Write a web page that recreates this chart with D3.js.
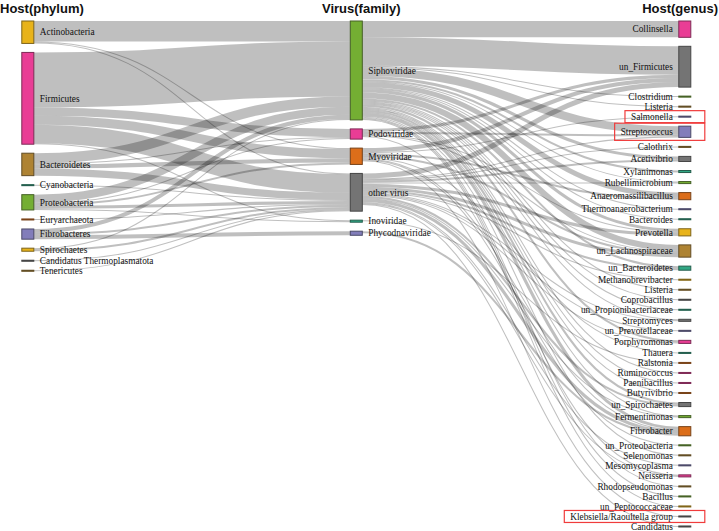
<!DOCTYPE html>
<html>
<head>
<meta charset="utf-8">
<script src="https://cdn.jsdelivr.net/npm/d3@7"></script>
<style>
  html, body { margin: 0; padding: 0; background: #fff; }
  svg { display: block; }
</style>
</head>
<body>
<svg id="chart" width="719" height="531"></svg>
<script>
// ---------------- DATA ----------------
const columnTitles = ["Host(phylum)", "Virus(family)", "Host(genus)"];

const phyla = ["Actinobacteria", "Firmicutes", "Bacteroidetes", "Cyanobacteria", "Proteobacteria",
  "Euryarchaeota", "Fibrobacteres", "Spirochaetes", "Candidatus Thermoplasmatota", "Tenericutes"];

const families = ["Siphoviridae", "Podoviridae", "Myoviridae", "other virus", "Inoviridae", "Phycodnaviridae"];

const genera = ["Collinsella", "un_Firmicutes", "Clostridium", "Listeria", "Salmonella", "Streptococcus",
  "Calothrix", "Acetivibrio", "Xylanimonas", "Rubellimicrobium", "Anaeromassilibacillus",
  "Thermoanaerobacterium", "Bacteroides", "Prevotella", "un_Lachnospiraceae", "un_Bacteroidetes",
  "Methanobrevibacter", "Listeria#2", "Coprobacillus", "un_Propionibacteriaceae", "Streptomyces",
  "un_Prevotellaceae", "Porphyromonas", "Thauera", "Ralstonia", "Ruminococcus", "Paenibacillus",
  "Butyrivibrio", "un_Spirochaetes", "Fermentimonas", "Fibrobacter", "un_Proteobacteria", "Selenomonas",
  "Mesomycoplasma", "Neisseria", "Rhodopseudomonas", "Bacillus", "un_Peptococcaceae",
  "Klebsiella/Raoultella group", "Candidatus"];

// [source, target, value]
const phylumToFamily = [
  ["Actinobacteria", "Siphoviridae", 20], ["Actinobacteria", "Myoviridae", 1], ["Actinobacteria", "other virus", 1],
  ["Firmicutes", "Siphoviridae", 54], ["Firmicutes", "Podoviridae", 8], ["Firmicutes", "Myoviridae", 9],
  ["Firmicutes", "other virus", 18], ["Firmicutes", "Inoviridae", 1],
  ["Bacteroidetes", "Siphoviridae", 10], ["Bacteroidetes", "Podoviridae", 1], ["Bacteroidetes", "Myoviridae", 4],
  ["Bacteroidetes", "other virus", 7],
  ["Cyanobacteria", "other virus", 1],
  ["Proteobacteria", "Siphoviridae", 8], ["Proteobacteria", "Podoviridae", 1], ["Proteobacteria", "Myoviridae", 2],
  ["Proteobacteria", "other virus", 3], ["Proteobacteria", "Inoviridae", 1],
  ["Euryarchaeota", "other virus", 1],
  ["Fibrobacteres", "Siphoviridae", 4], ["Fibrobacteres", "other virus", 2], ["Fibrobacteres", "Phycodnaviridae", 4],
  ["Spirochaetes", "Siphoviridae", 1], ["Spirochaetes", "other virus", 2],
  ["Candidatus Thermoplasmatota", "other virus", 1],
  ["Tenericutes", "other virus", 1]
];

const familyToGenus = [
  ["Siphoviridae", "Collinsella", 16], ["Siphoviridae", "un_Firmicutes", 28], ["Siphoviridae", "Clostridium", 1],
  ["Siphoviridae", "Listeria", 1], ["Siphoviridae", "Streptococcus", 8], ["Siphoviridae", "Acetivibrio", 3],
  ["Siphoviridae", "Xylanimonas", 2], ["Siphoviridae", "Rubellimicrobium", 1], ["Siphoviridae", "Anaeromassilibacillus", 5],
  ["Siphoviridae", "Thermoanaerobacterium", 1], ["Siphoviridae", "Bacteroides", 1], ["Siphoviridae", "Prevotella", 3],
  ["Siphoviridae", "un_Lachnospiraceae", 6], ["Siphoviridae", "un_Bacteroidetes", 2], ["Siphoviridae", "Listeria#2", 1],
  ["Siphoviridae", "Coprobacillus", 1], ["Siphoviridae", "un_Propionibacteriaceae", 1], ["Siphoviridae", "Streptomyces", 1],
  ["Siphoviridae", "Porphyromonas", 2], ["Siphoviridae", "Ruminococcus", 1], ["Siphoviridae", "Paenibacillus", 1],
  ["Siphoviridae", "Butyrivibrio", 1], ["Siphoviridae", "un_Spirochaetes", 2], ["Siphoviridae", "Fermentimonas", 1],
  ["Siphoviridae", "Fibrobacter", 3], ["Siphoviridae", "Selenomonas", 1], ["Siphoviridae", "Rhodopseudomonas", 1],
  ["Siphoviridae", "Bacillus", 1], ["Siphoviridae", "un_Peptococcaceae", 1],
  ["Podoviridae", "un_Firmicutes", 3], ["Podoviridae", "Streptococcus", 2], ["Podoviridae", "Prevotella", 1],
  ["Podoviridae", "un_Lachnospiraceae", 1], ["Podoviridae", "Neisseria", 1],
  ["Myoviridae", "un_Firmicutes", 4], ["Myoviridae", "Salmonella", 1], ["Myoviridae", "Anaeromassilibacillus", 2],
  ["Myoviridae", "un_Lachnospiraceae", 2], ["Myoviridae", "Thauera", 1], ["Myoviridae", "un_Proteobacteria", 1],
  ["Myoviridae", "Klebsiella/Raoultella group", 1], ["Myoviridae", "Fibrobacter", 1],
  ["other virus", "un_Firmicutes", 5], ["other virus", "Streptococcus", 1], ["other virus", "Calothrix", 1],
  ["other virus", "Acetivibrio", 2], ["other virus", "Rubellimicrobium", 1], ["other virus", "Prevotella", 3],
  ["other virus", "un_Lachnospiraceae", 3], ["other virus", "un_Bacteroidetes", 2], ["other virus", "Methanobrevibacter", 1],
  ["other virus", "Streptomyces", 1], ["other virus", "un_Prevotellaceae", 1], ["other virus", "Porphyromonas", 1],
  ["other virus", "un_Spirochaetes", 2], ["other virus", "Fermentimonas", 1], ["other virus", "Fibrobacter", 3],
  ["other virus", "Mesomycoplasma", 1], ["other virus", "Neisseria", 1], ["other virus", "Candidatus", 1],
  ["Inoviridae", "Ralstonia", 1],
  ["Phycodnaviridae", "Fibrobacter", 2]
];

const highlighted = ["Salmonella", "Streptococcus", "Klebsiella/Raoultella group"];

// ---------------- STYLE ----------------
const dark2 = d3.schemeDark2; // teal, orange, purple, pink, green, yellow, brown, gray
const colorIndex = {
  "Actinobacteria": 5, "Firmicutes": 3, "Bacteroidetes": 6, "Cyanobacteria": 0, "Proteobacteria": 4,
  "Euryarchaeota": 1, "Fibrobacteres": 2, "Spirochaetes": 5, "Candidatus Thermoplasmatota": 7, "Tenericutes": 6,
  "Siphoviridae": 4, "Podoviridae": 3, "Myoviridae": 1, "other virus": 7, "Inoviridae": 0, "Phycodnaviridae": 2,
  "Collinsella": 3, "un_Firmicutes": 7, "Clostridium": 4, "Listeria": 6, "Salmonella": 2, "Streptococcus": 2,
  "Calothrix": 6, "Acetivibrio": 7, "Xylanimonas": 0, "Rubellimicrobium": 4, "Anaeromassilibacillus": 1,
  "Thermoanaerobacterium": 2, "Bacteroides": 0, "Prevotella": 5, "un_Lachnospiraceae": 6, "un_Bacteroidetes": 0,
  "Methanobrevibacter": 5, "Listeria#2": 6, "Coprobacillus": 7, "un_Propionibacteriaceae": 0, "Streptomyces": 7,
  "un_Prevotellaceae": 2, "Porphyromonas": 3, "Thauera": 0, "Ralstonia": 1, "Ruminococcus": 3, "Paenibacillus": 3,
  "Butyrivibrio": 1, "un_Spirochaetes": 7, "Fermentimonas": 4, "Fibrobacter": 1, "un_Proteobacteria": 4,
  "Selenomonas": 6, "Mesomycoplasma": 2, "Neisseria": 3, "Rhodopseudomonas": 6, "Bacillus": 4,
  "un_Peptococcaceae": 5, "Klebsiella/Raoultella group": 7, "Candidatus": 7
};

// ---------------- LAYOUT ----------------
const svg = d3.select("#chart");
const plotTop = 21, innerH = 506, pad = 9, nodeW = 12;
const columns = [phyla, families, genera];
const x = d3.scalePoint().domain([0, 1, 2]).range([21.8, 678.8]);

const nodes = new Map();
columns.forEach((col, ci) => col.forEach((name, i) => {
  nodes.set(name, { name, label: name.replace(/#\d+$/, ""), col: ci, index: i, sourceLinks: [], targetLinks: [] });
}));
const links = phylumToFamily.concat(familyToGenus).map(([s, t, v]) => {
  const l = { source: nodes.get(s), target: nodes.get(t), value: v };
  l.source.sourceLinks.push(l); l.target.targetLinks.push(l);
  return l;
});
nodes.forEach(n => {
  n.value = Math.max(d3.sum(n.sourceLinks, l => l.value), d3.sum(n.targetLinks, l => l.value));
});
const colNodes = columns.map(col => col.map(n => nodes.get(n)));
const ky = d3.min(colNodes, ns => (innerH - (ns.length - 1) * pad) / d3.sum(ns, n => n.value));
const h = d3.scaleLinear().domain([0, 1]).range([0, ky]);

colNodes.forEach((ns, ci) => {
  let y = plotTop;
  ns.forEach(n => { n.x = x(ci); n.y = y; n.dy = h(n.value); y += n.dy + pad; });
});
// link stacking order (by position of the other end)
nodes.forEach(n => {
  n.sourceLinks.sort((a, b) => a.target.y - b.target.y);
  n.targetLinks.sort((a, b) => a.source.y - b.source.y);
  let sy = 0, ty = 0;
  n.sourceLinks.forEach(l => { l.dy = h(l.value); l.sy = sy; sy += l.dy; });
  n.targetLinks.forEach(l => { l.ty = ty; ty += h(l.value); });
});

// ---------------- DRAW ----------------
const linkGen = d3.linkHorizontal().x(p => p[0]).y(p => p[1]);
svg.append("g").attr("fill", "none")
  .selectAll("path").data(links).join("path")
  .attr("d", l => linkGen({
    source: [l.source.x + nodeW, l.source.y + l.sy + l.dy / 2],
    target: [l.target.x, l.target.y + l.ty + l.dy / 2]
  }))
  .attr("stroke", "#000")
  .attr("stroke-opacity", 0.25)
  .attr("stroke-width", l => Math.max(1, l.dy));

const nodeG = svg.append("g").selectAll("g").data(Array.from(nodes.values())).join("g")
  .attr("transform", n => `translate(${n.x},${n.y})`);

nodeG.append("rect")
  .attr("width", nodeW)
  .attr("height", n => n.dy)
  .attr("fill", n => dark2[colorIndex[n.name]])
  .attr("stroke", n => d3.rgb(dark2[colorIndex[n.name]]).darker(2))
  .attr("opacity", 0.9);

nodeG.append("text")
  .attr("x", n => n.col < 2 ? nodeW + 6 : -6)
  .attr("y", n => n.dy / 2)
  .attr("dy", "0.35em")
  .attr("text-anchor", n => n.col < 2 ? "start" : "end")
  .attr("font-family", "'Liberation Serif', 'Times New Roman', serif")
  .attr("font-size", "9.3px")
  .attr("fill", "#111")
  .text(n => n.label);

// highlight boxes
nodeG.filter(n => n.col === 2 && highlighted.includes(n.name)).each(function(n) {
  const bb = d3.select(this).select("text").node().getBBox();
  const bh = Math.max(n.dy + 6, 12);
  d3.select(this).append("rect")
    .attr("x", bb.x - 6)
    .attr("y", n.dy / 2 - bh / 2)
    .attr("width", nodeW + 14 - (bb.x - 6))
    .attr("height", bh)
    .attr("fill", "none")
    .attr("stroke", "#f03c3c")
    .attr("stroke-width", 1.2);
});

// column titles
const titleX = [0, 322, 718];
const titleAnchor = ["start", "start", "end"];
svg.append("g").selectAll("text").data(columnTitles).join("text")
  .attr("x", (d, i) => titleX[i])
  .attr("y", 13)
  .attr("text-anchor", (d, i) => titleAnchor[i])
  .attr("font-family", "'Liberation Sans', Arial, sans-serif")
  .attr("font-weight", "bold")
  .attr("font-size", "13px")
  .attr("fill", "#111")
  .text(d => d);
</script>
</body>
</html>
